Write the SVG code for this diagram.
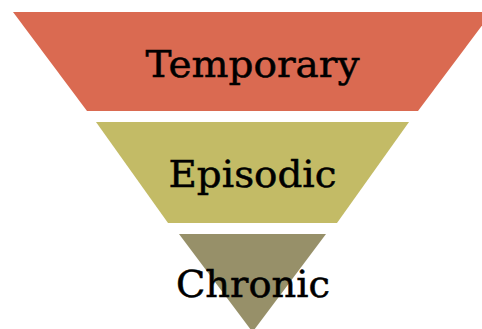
<svg xmlns="http://www.w3.org/2000/svg" width="482" height="329" viewBox="0 0 482 329">
<style>
.lbl{font-family:"DejaVu Serif","Liberation Serif",serif;font-size:37px;fill:#000;stroke:#000;stroke-width:0.5px;text-anchor:middle}
</style>
<rect width="482" height="329" fill="#fff"/>
<g id="temporary">
<polygon points="13,12 492,12 418,111 87,111" fill="#DA6A51"/>
<text class="lbl" x="252.5" y="77" textLength="214" lengthAdjust="spacingAndGlyphs">Temporary</text>
</g>
<g id="episodic">
<polygon points="96,122 409,122 337,223 168,223" fill="#C3BB66"/>
<text class="lbl" x="252.5" y="187" textLength="168" lengthAdjust="spacingAndGlyphs">Episodic</text>
</g>
<g id="chronic">
<polygon points="179,234 326,234 252.5,332" fill="#979069"/>
<text class="lbl" x="253" y="297" textLength="154" lengthAdjust="spacingAndGlyphs">Chronic</text>
</g>
<g id="connectors"/>
</svg>
